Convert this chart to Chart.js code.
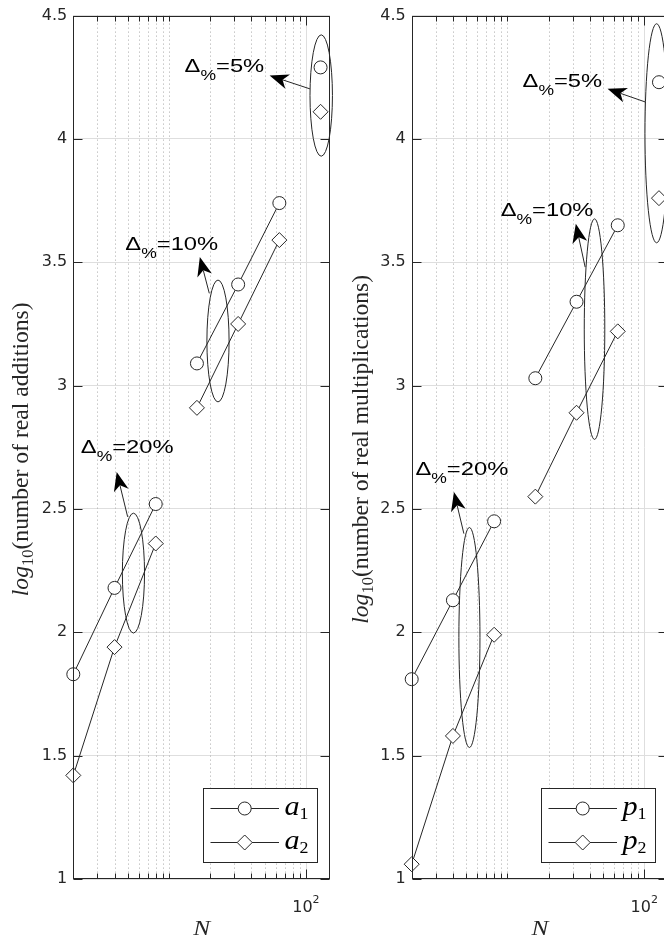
<!DOCTYPE html>
<html><head><meta charset="utf-8">
<script src="https://cdn.jsdelivr.net/npm/chart.js@4.4.1/dist/chart.umd.min.js"></script>
<style>
html,body{margin:0;padding:0;background:#fff;overflow:hidden;width:664px;height:939px;position:relative}
canvas{position:absolute;top:0}
#cAdd{left:0}
#cMul{left:340px}
</style></head>
<body>
<canvas id="cAdd" width="340" height="939"></canvas>
<canvas id="cMul" width="340" height="939"></canvas>
<script>
// ---------------- data ----------------
const N = [2, 4, 8, 16, 32, 64, 128];
const segments = [[0, 3], [3, 6], [6, 7]];           // index ranges joined by lines
const a1 = [1.83, 2.18, 2.52, 3.09, 3.41, 3.74, 4.29];
const a2 = [1.42, 1.94, 2.36, 2.91, 3.25, 3.59, 4.11];
const p1 = [1.81, 2.13, 2.45, 3.03, 3.34, 3.65, 4.23];
const p2 = [1.06, 1.58, 1.99, 2.55, 2.89, 3.22, 3.76];
const yTickValues = [1, 1.5, 2, 2.5, 3, 3.5, 4, 4.5];
const yTickLabels = ['1', '1.5', '2', '2.5', '3', '3.5', '4', '4.5'];
const xMinorTicks = [3, 4, 5, 6, 7, 8, 9, 10, 20, 30, 40, 50, 60, 70, 80, 90];
const xMajorTicks = [100];
const xMajorLabels = [['10', '2']];
const deltaLabels = ['20%', '10%', '5%'];
const legendAdd = [['a', '1'], ['a', '2']];
const legendMul = [['p', '1'], ['p', '2']];
const yTitleAdd = ['log', '10', '(number of real additions)'];
const yTitleMul = ['log', '10', '(number of real multiplications)'];
const xTitleText = 'N';

// annotation placement in data units ([N, value]; ellipse: [N, value, half-width in decades, half-height])
const notesAdd = [
  { ell: [5.5, 2.24, 0.081, 0.243], from: [4.99, 2.468], to: [4.15, 2.65], text: [2.27, 2.726] },
  { ell: [22.8, 3.181, 0.081, 0.247], from: [19.7, 3.374], to: [16.8, 3.521], text: [4.80, 3.548] },
  { ell: [129.4, 4.176, 0.082, 0.246], from: [107, 4.203], to: [54.3, 4.257], text: [13.0, 4.270] }
];
const notesMul = [
  { ell: [5.28, 1.979, 0.077, 0.446], from: [4.81, 2.400], to: [4.07, 2.569], text: [2.13, 2.637] },
  { ell: [43.3, 3.229, 0.075, 0.447], from: [37.0, 3.48], to: [31.6, 3.656], text: [8.93, 3.686] },
  { ell: [123, 4.023, 0.085, 0.444], from: [102.7, 4.149], to: [53.9, 4.203], text: [12.9, 4.212] }
];

// ---------------- styles ----------------
const INK = '#262626';
const GRID = '#dedede';
const MINOR = '#a9a9a9';
const SANS = '"Liberation Sans", Arial, sans-serif';
const SERIF = '"Liberation Serif", "Times New Roman", serif';
Chart.defaults.font.family = '"DejaVu Sans", sans-serif';
Chart.defaults.color = INK;

function segData(vals) {
  const out = [];
  segments.forEach(([s, e], k) => {
    if (k > 0) out.push({ x: N[s], y: null });
    for (let i = s; i < e; i++) out.push({ x: N[i], y: vals[i] });
  });
  return out;
}

function runWidth(ctx, parts) {
  let w = 0;
  for (const p of parts) { ctx.font = p.f; w += ctx.measureText(p.t).width; }
  return w;
}
function drawRun(ctx, parts, x, y, sx) {
  ctx.save();
  ctx.translate(x, y); ctx.scale(sx, 1);
  ctx.textAlign = 'left'; ctx.textBaseline = 'alphabetic';
  let cx = 0;
  for (const p of parts) { ctx.font = p.f; ctx.fillText(p.t, cx, p.dy || 0); cx += ctx.measureText(p.t).width; }
  ctx.restore();
  return cx * sx;
}
function drawMarker(ctx, style, cx, cy) {
  ctx.beginPath();
  if (style === 'circle') ctx.arc(cx, cy, 6.5, 0, Math.PI * 2);
  else { const r = 7.5; ctx.moveTo(cx - r, cy); ctx.lineTo(cx, cy - r); ctx.lineTo(cx + r, cy); ctx.lineTo(cx, cy + r); ctx.closePath(); }
  ctx.fillStyle = '#fff'; ctx.fill(); ctx.stroke();
}
function drawArrow(ctx, x0, y0, x1, y1) {
  const dx = x0 - x1, dy = y0 - y1, d = Math.hypot(dx, dy), ux = dx / d, uy = dy / d, nx = -uy, ny = ux;
  const Lh = 19, W = 7.5, notch = 0.72;
  ctx.beginPath(); ctx.moveTo(x0, y0); ctx.lineTo(x1 + ux * Lh * notch, y1 + uy * Lh * notch); ctx.stroke();
  ctx.beginPath();
  ctx.moveTo(x1, y1);
  ctx.lineTo(x1 + ux * Lh + nx * W, y1 + uy * Lh + ny * W);
  ctx.lineTo(x1 + ux * Lh * notch, y1 + uy * Lh * notch);
  ctx.lineTo(x1 + ux * Lh - nx * W, y1 + uy * Lh - ny * W);
  ctx.closePath(); ctx.fillStyle = '#000'; ctx.fill();
}

function decoPlugin(cfg) {
  return {
    id: 'deco_' + cfg.key,
    beforeDatasetsDraw(chart) {
      const { ctx, chartArea: a, scales: { x } } = chart;
      ctx.save();
      ctx.lineWidth = 1;
      ctx.strokeStyle = MINOR; ctx.setLineDash([1, 3]);
      ctx.beginPath();
      xMinorTicks.forEach(v => { const px = Math.round(x.getPixelForValue(v)) + 0.5; ctx.moveTo(px, a.top); ctx.lineTo(px, a.bottom); });
      ctx.stroke();
      ctx.setLineDash([]); ctx.strokeStyle = GRID;
      ctx.beginPath();
      xMajorTicks.forEach(v => { const px = Math.round(x.getPixelForValue(v)) + 0.5; ctx.moveTo(px, a.top); ctx.lineTo(px, a.bottom); });
      ctx.stroke();
      ctx.restore();
    },
    afterDatasetsDraw(chart) {
      const { ctx, chartArea: a, scales: { x, y } } = chart;
      ctx.save();
      ctx.strokeStyle = INK; ctx.fillStyle = INK; ctx.lineWidth = 1; ctx.setLineDash([]);
      const L = Math.round(a.left) + 0.5, R = Math.round(a.right) - 0.5, T = Math.round(a.top) + 0.5, B = Math.round(a.bottom) - 0.5;
      // ticks
      ctx.beginPath();
      yTickValues.forEach(v => { const py = Math.round(y.getPixelForValue(v)) + 0.5; ctx.moveTo(L, py); ctx.lineTo(L + 9, py); ctx.moveTo(R, py); ctx.lineTo(R - 9, py); });
      xMinorTicks.forEach(v => { const px = Math.round(x.getPixelForValue(v)) + 0.5; ctx.moveTo(px, B); ctx.lineTo(px, B - 5); ctx.moveTo(px, T); ctx.lineTo(px, T + 5); });
      xMajorTicks.forEach(v => { const px = Math.round(x.getPixelForValue(v)) + 0.5; ctx.moveTo(px, B); ctx.lineTo(px, B - 9); ctx.moveTo(px, T); ctx.lineTo(px, T + 9); });
      ctx.stroke();
      // frame
      ctx.strokeRect(L, T, R - L, B - T);

      // x major tick labels (10^2)
      ctx.fillStyle = INK;
      xMajorTicks.forEach((v, i) => {
        const parts = [{ t: xMajorLabels[i][0], f: '16px "DejaVu Sans"' }, { t: xMajorLabels[i][1], f: '11px "DejaVu Sans"', dy: -9 }];
        const w = runWidth(ctx, parts);
        drawRun(ctx, parts, x.getPixelForValue(v) - w / 2, a.bottom + 32.7, 1);
      });
      // x title
      {
        const parts = [{ t: xTitleText, f: 'italic 20px ' + SERIF }];
        const sx = 1.27, w = runWidth(ctx, parts) * sx;
        drawRun(ctx, parts, (a.left + a.right) / 2 - w / 2, a.bottom + 55.6, sx);
      }
      // y title (rotated)
      {
        const mk = (S, tt) => [
          { t: tt[0], f: `italic ${S}px ${SERIF}` },
          { t: tt[1], f: `${(S * 0.7).toFixed(2)}px ${SERIF}`, dy: S * 0.22 },
          { t: tt[2], f: `${S}px ${SERIF}` }
        ];
        const S = 20 * 294 / runWidth(ctx, mk(20, yTitleAdd));   // size fitted on the additions title
        const parts = mk(S, cfg.yTitle);
        const w = runWidth(ctx, parts);
        ctx.save();
        ctx.translate(cfg.titleX, (a.top + a.bottom) / 2 + 2);
        ctx.rotate(-Math.PI / 2);
        drawRun(ctx, parts, -w / 2, 0, 1);
        ctx.restore();
      }

      // annotations: ellipses, arrows, delta labels
      cfg.notes.forEach((n, i) => {
        const [en, ev, hw, hh] = n.ell;
        const cx = x.getPixelForValue(en), cy = y.getPixelForValue(ev);
        const rx = x.getPixelForValue(en * Math.pow(10, hw)) - cx;
        const ry = y.getPixelForValue(ev - hh) - cy;
        ctx.strokeStyle = INK; ctx.lineWidth = 1;
        ctx.beginPath(); ctx.ellipse(cx, cy, rx, ry, 0, 0, Math.PI * 2); ctx.stroke();
        drawArrow(ctx, x.getPixelForValue(n.from[0]), y.getPixelForValue(n.from[1]), x.getPixelForValue(n.to[0]), y.getPixelForValue(n.to[1]));
        ctx.fillStyle = '#000';
        drawRun(ctx, [
          { t: '\u0394', f: '19px ' + SANS },
          { t: '%', f: '14px ' + SANS, dy: 8 },
          { t: '=' + deltaLabels[i], f: '19px ' + SANS }
        ], x.getPixelForValue(n.text[0]), y.getPixelForValue(n.text[1]), 1.25);
      });

      // legend box
      const bw = 114, bh = 74;
      const bx = Math.round(a.right - 13 - bw), by = Math.round(a.bottom - 17.3 - bh);
      ctx.fillStyle = '#fff'; ctx.fillRect(bx, by, bw, bh);
      ctx.strokeStyle = INK; ctx.lineWidth = 1;
      ctx.strokeRect(bx + 0.5, by + 0.5, bw, bh);
      chart.data.datasets.forEach((ds, i) => {
        const ry = by + 20 + i * 34;
        ctx.strokeStyle = INK; ctx.lineWidth = 1;
        ctx.beginPath(); ctx.moveTo(bx + 7.5, ry + 0.5); ctx.lineTo(bx + 76, ry + 0.5); ctx.stroke();
        drawMarker(ctx, ds.pointStyle, bx + 41.7, ry + 0.5);
        ctx.fillStyle = '#000';
        drawRun(ctx, [
          { t: cfg.legend[i][0], f: 'italic 27px ' + SERIF },
          { t: cfg.legend[i][1], f: '16px ' + SERIF, dy: 4 }
        ], bx + 81.5, ry + 7, 1.12);
      });
      ctx.restore();
    }
  };
}

function makeChart(id, s1, s2, cfg) {
  const common = { borderColor: INK, borderWidth: 1, pointBorderColor: INK, pointBorderWidth: 1, pointBackgroundColor: '#fff', fill: false, tension: 0, clip: false, spanGaps: false };
  return new Chart(document.getElementById(id), {
    type: 'line',
    data: {
      datasets: [
        Object.assign({ label: cfg.legend[0].join(''), data: segData(s1), pointStyle: 'circle', pointRadius: 6.5 }, common),
        Object.assign({ label: cfg.legend[1].join(''), data: segData(s2), pointStyle: 'rectRot', pointRadius: 7.5 }, common)
      ]
    },
    options: {
      responsive: false, animation: false, devicePixelRatio: 1, events: [],
      layout: { padding: { top: 15, right: cfg.padRight, left: 0, bottom: 0 } },
      plugins: { legend: { display: false }, tooltip: { enabled: false } },
      scales: {
        x: {
          type: 'logarithmic', min: 2, max: 150,
          ticks: { display: false }, grid: { display: false }, border: { display: false },
          afterFit(s) { s.height = 60; }
        },
        y: {
          type: 'linear', min: 1, max: 4.5,
          afterBuildTicks(s) { s.ticks = yTickValues.map(v => ({ value: v })); },
          ticks: {
            font: { size: 16, family: '"DejaVu Sans", sans-serif' }, color: INK, padding: 6,
            callback: (v) => yTickLabels[yTickValues.indexOf(v)]
          },
          grid: { color: GRID, drawTicks: false, lineWidth: 1 },
          border: { display: false },
          afterFit(s) { s.width = cfg.yWidth; }
        }
      }
    },
    plugins: [decoPlugin(cfg)]
  });
}

makeChart('cAdd', a1, a2, { key: 'add', legend: legendAdd, yTitle: yTitleAdd, notes: notesAdd, yWidth: 73.3, padRight: 10, titleX: 28 });
makeChart('cMul', p1, p2, { key: 'mul', legend: legendMul, yTitle: yTitleMul, notes: notesMul, yWidth: 71.7, padRight: 11.6, titleX: 28 });
</script>
</body></html>
